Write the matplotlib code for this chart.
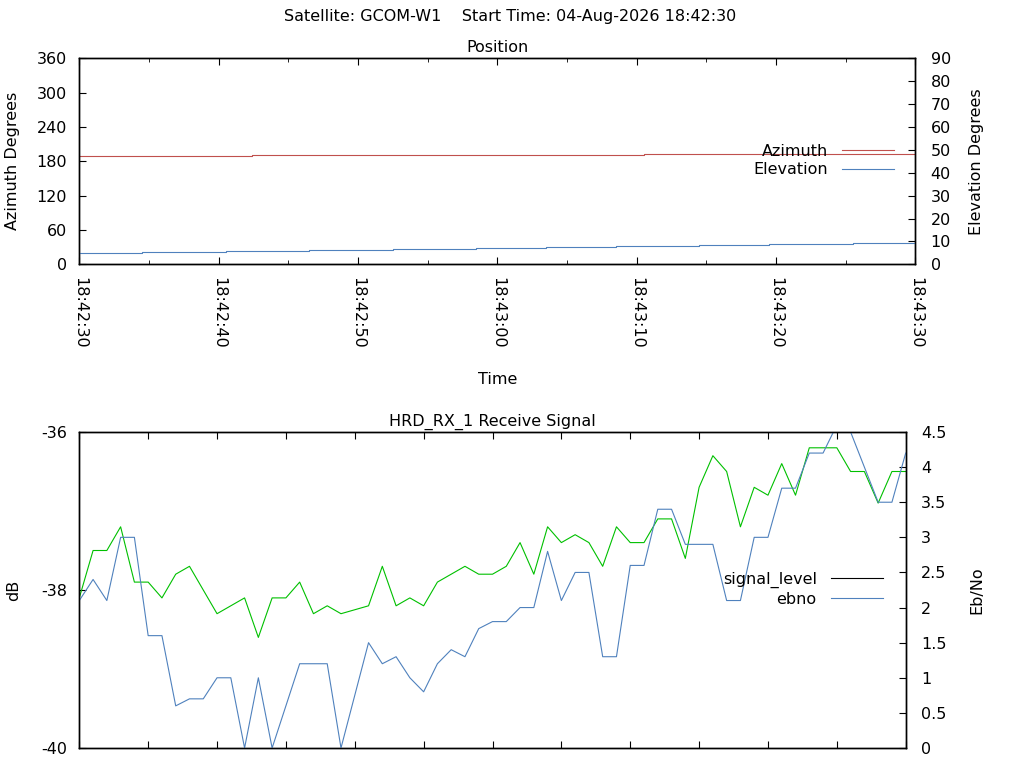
import numpy as np
import matplotlib
matplotlib.use("Agg")
import matplotlib.pyplot as plt
from matplotlib.lines import Line2D
from matplotlib.ticker import FuncFormatter, MultipleLocator, FixedLocator

# ---- data (seconds after start time) ----
start_h, start_m, start_s = 18, 42, 30

az_times = [0, 12.4, 40.5, 60]
az_vals = [188.7, 190.4, 192.2, 192.2]

el_times = [0, 4.5, 10.5, 16.5, 22.5, 28.5, 33.5, 38.5, 44.5, 49.5, 55.5, 60]
el_vals = [4.8, 5.2, 5.7, 6.1, 6.6, 7.0, 7.4, 7.9, 8.3, 8.7, 9.2, 9.2]

sig_times = np.arange(61)
signal_level = [-38.1, -37.5, -37.5, -37.2, -37.9, -37.9, -38.1, -37.8, -37.7, -38.0,
                -38.3, -38.2, -38.1, -38.6, -38.1, -38.1, -37.9, -38.3, -38.2, -38.3,
                -38.25, -38.2, -37.7, -38.2, -38.1, -38.2, -37.9, -37.8, -37.7, -37.8,
                -37.8, -37.7, -37.4, -37.8, -37.2, -37.4, -37.3, -37.4, -37.7, -37.2,
                -37.4, -37.4, -37.1, -37.1, -37.6, -36.7, -36.3, -36.5, -37.2, -36.7,
                -36.8, -36.4, -36.8, -36.2, -36.2, -36.2, -36.5, -36.5, -36.9, -36.5, -36.5]
ebno = [2.1, 2.4, 2.1, 3.0, 3.0, 1.6, 1.6, 0.6, 0.7, 0.7,
        1.0, 1.0, 0.0, 1.0, 0.0, 0.6, 1.2, 1.2, 1.2, 0.0,
        0.75, 1.5, 1.2, 1.3, 1.0, 0.8, 1.2, 1.4, 1.3, 1.7,
        1.8, 1.8, 2.0, 2.0, 2.8, 2.1, 2.5, 2.5, 1.3, 1.3,
        2.6, 2.6, 3.4, 3.4, 2.9, 2.9, 2.9, 2.1, 2.1, 3.0,
        3.0, 3.7, 3.7, 4.2, 4.2, 4.6, 4.5, 4.0, 3.5, 3.5, 4.2]

titulo = "Satellite: GCOM-W1    Start Time: 04-Aug-2026 18:42:30"

fs = 11.5
plt.rcParams['font.family'] = 'DejaVu Sans'
plt.rcParams['font.size'] = fs
plt.rcParams['axes.linewidth'] = 1.0
plt.rcParams['axes.unicode_minus'] = False

rojo = '#c0504d'
azul = '#4f81bd'
verde = '#00c000'


def hms(x, pos=None):
    total = start_h * 3600 + start_m * 60 + start_s + int(round(x))
    return "%02d:%02d:%02d" % (total // 3600, (total // 60) % 60, total % 60)


fig = plt.figure(figsize=(10.24, 7.68), dpi=100)
fig.text(510 / 1024, 1 - 17 / 768, titulo, ha='center', va='center', fontsize=fs)

# ---------------- Position ----------------
ax1 = fig.add_axes([79.3 / 1024, 1 - 264.3 / 768, 836 / 1024, 206 / 768])
ax1b = ax1.twinx()
ax1.plot(az_times, az_vals, drawstyle='steps-post', color=rojo, lw=0.8)
ax1b.plot(el_times, el_vals, drawstyle='steps-post', color=azul, lw=0.8)
ax1.set_xlim(0, 60)
ax1.set_ylim(0, 360)
ax1b.set_ylim(0, 90)
ax1.yaxis.set_major_locator(MultipleLocator(60))
ax1b.yaxis.set_major_locator(MultipleLocator(10))
ax1.xaxis.set_major_locator(MultipleLocator(10))
ax1.xaxis.set_minor_locator(MultipleLocator(5))
ax1.xaxis.set_major_formatter(FuncFormatter(hms))
ax1.tick_params(axis='x', which='both', direction='in', top=True, labelrotation=-90, pad=9)
ax1.tick_params(axis='x', which='major', length=5)
ax1.tick_params(axis='x', which='minor', length=3)
ax1.tick_params(axis='y', direction='in', length=5, pad=9, right=False)
ax1b.tick_params(axis='y', direction='in', length=5, pad=11)
ax1.set_title("Position", fontsize=fs, pad=4.3)
ax1.set_xlabel("Time", va='center')
ax1.xaxis.set_label_coords(0.5, (264.3 - 379) / 206)
ax1.set_ylabel("Azimuth Degrees", va='center')
ax1.yaxis.set_label_coords((12.5 - 79.3) / 836, 0.5)
ax1b.set_ylabel("Elevation Degrees", va='center')
ax1b.yaxis.set_label_coords((976 - 79.3) / 836, 0.5)
h_pos = [Line2D([], [], color=rojo, lw=0.8), Line2D([], [], color=azul, lw=0.8)]
ax1b.legend(h_pos, ["Azimuth", "Elevation"], loc='center right',
            bbox_to_anchor=((894 - 79.3) / 836, (264.3 - 160.5) / 206),
            frameon=False, markerfirst=False, borderpad=0, borderaxespad=0,
            handlelength=3.25, handletextpad=0.9, labelspacing=0.24, fontsize=fs)

# ---------------- Receive signal ----------------
ax2 = fig.add_axes([79.3 / 1024, 1 - 748 / 768, 826.4 / 1024, 316 / 768])
ax2b = ax2.twinx()
ax2.plot(sig_times, signal_level, color=verde, lw=0.8)
ax2b.plot(sig_times, ebno, color=azul, lw=0.8)
ax2.set_xlim(0, 60)
ax2.set_ylim(-40, -36)
ax2b.set_ylim(0, 4.5)
ax2.yaxis.set_major_locator(FixedLocator([-40, -38, -36]))
ax2b.yaxis.set_major_locator(MultipleLocator(0.5))
ax2b.yaxis.set_major_formatter(FuncFormatter(lambda v, p: "%g" % v))
ax2.xaxis.set_major_locator(MultipleLocator(5))
ax2.tick_params(axis='x', direction='in', top=True, length=5, labelbottom=False)
ax2.tick_params(axis='y', direction='in', length=5, pad=9, right=False)
ax2b.tick_params(axis='y', direction='in', length=5, pad=11)
ax2.set_title("HRD_RX_1 Receive Signal", fontsize=fs, pad=4.3)
ax2.set_ylabel("dB", va='center')
ax2.yaxis.set_label_coords((14 - 79.3) / 826.4, 0.5)
ax2b.set_ylabel("Eb/No", va='center')
ax2b.yaxis.set_label_coords((977.3 - 79.3) / 826.4, 0.5)
h_sig = [Line2D([], [], color='black', lw=0.8), Line2D([], [], color=azul, lw=0.8)]
ax2b.legend(h_sig, ["signal_level", "ebno"], loc='center right',
            bbox_to_anchor=((883 - 79.3) / 826.4, (748 - 589.5) / 316),
            frameon=False, markerfirst=False, borderpad=0, borderaxespad=0,
            handlelength=3.25, handletextpad=0.9, labelspacing=0.24, fontsize=fs)

fig.savefig("out.png", dpi=100)
